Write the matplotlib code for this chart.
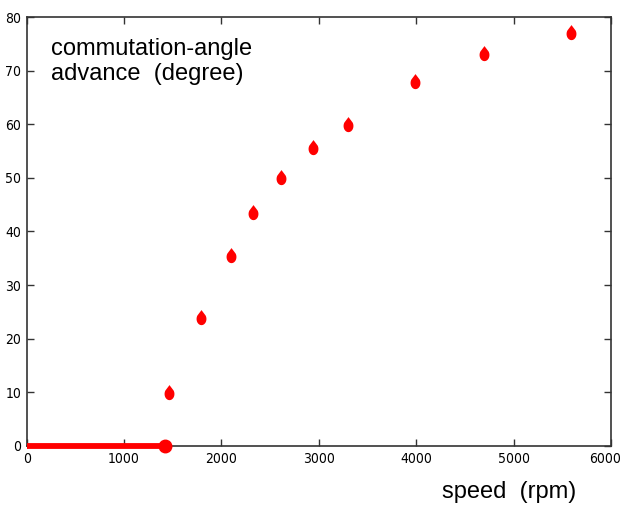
import numpy as np
import matplotlib
matplotlib.use("Agg")
import matplotlib.pyplot as plt
import matplotlib.transforms as mtrans
from matplotlib.path import Path

# data
speed = [1460, 1790, 2100, 2320, 2610, 2940, 3300, 3990, 4700, 5590]
advance = [10.1, 24.1, 35.6, 43.6, 50.2, 55.7, 60.1, 68.1, 73.2, 77.2]
zero_end = 1420
xticks = [0, 1000, 2000, 3000, 4000, 5000, 6000]
yticks = [0, 10, 20, 30, 40, 50, 60, 70, 80]

# teardrop-ish marker: elliptical bottom, pointed top
t = np.radians(np.linspace(35, -215, 50))
arc = np.column_stack([np.cos(t), 1.25 * np.sin(t) - 0.3])
verts = np.vstack([[[0, 1.5]], arc, [[0, 1.5]]])
drop = Path(verts, closed=True)

fig = plt.figure(figsize=(6.24, 5.09), dpi=100)
ax = fig.add_axes([0.0428, 0.1238, 0.9362, 0.8428])

ax.plot([0, zero_end], [0, 0], color='red', lw=4.2, solid_capstyle='butt',
        clip_on=False, zorder=5)
ax.plot([zero_end], [0], marker='o', ms=9, color='red', clip_on=False, zorder=6)
ax.plot(speed, advance, linestyle='none', marker=drop, ms=11,
        color='red', markeredgewidth=0, zorder=6)

ax.set_xlim(0, 6000)
ax.set_ylim(0, 80)
ax.set_xticks(xticks)
ax.set_yticks(yticks)
ax.tick_params(direction='in', length=5, width=1, color='#333333',
               top=True, right=True, labelsize=10, pad=4)
for lab in ax.get_xticklabels() + ax.get_yticklabels():
    lab.set_family('DejaVu Sans')
    lab.set_stretch('condensed')
for s in ax.spines.values():
    s.set_color('#333333')
    s.set_linewidth(1.2)

# nudge the last x label so it stays inside the figure
last = ax.get_xticklabels()[-1]
last.set_transform(last.get_transform() +
                   mtrans.ScaledTranslation(-4 / 72, 0, fig.dpi_scale_trans))

ax.text(0.042, 0.951, 'commutation-angle\nadvance  (degree)', transform=ax.transAxes,
        ha='left', va='top', fontsize=17, family='Liberation Sans', linespacing=1.15)
fig.text(0.8155, 0.033, 'speed  (rpm)', ha='center', va='center',
         fontsize=17, family='Liberation Sans')

fig.savefig('out.png', dpi=100)
